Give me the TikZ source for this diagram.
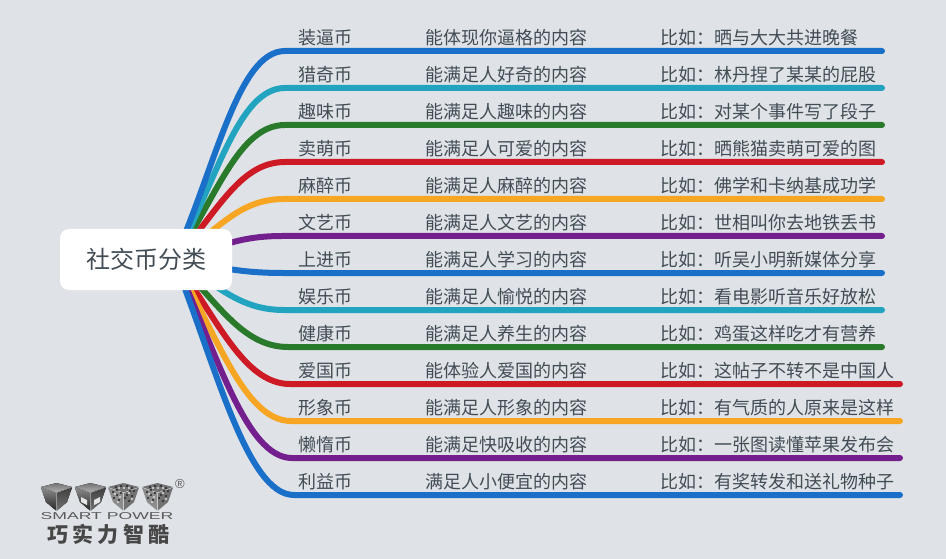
\documentclass[tikz,border=0pt]{standalone}
\usepackage{fontspec}
\setmainfont{Noto Sans CJK SC}
\setsansfont{Liberation Sans}
\definecolor{bgc}{HTML}{DFE3E7}
\definecolor{txt}{HTML}{424C55}
\definecolor{cblue}{HTML}{1A6FC9}
\definecolor{cteal}{HTML}{22A3BF}
\definecolor{cgreen}{HTML}{2A7A2C}
\definecolor{cred}{HTML}{CE1A25}
\definecolor{corange}{HTML}{F6A623}
\definecolor{cpurple}{HTML}{741F8E}
\tikzset{
  branch/.style={line width=6pt,line cap=round},
  lbl/.style={anchor=west,inner sep=0pt,text=txt,font=\fontsize{18pt}{18pt}\selectfont},
  rootbox/.style={fill=white,rounded corners=9pt,minimum width=172pt,minimum height=61pt,inner sep=0pt,text=txt,font=\fontsize{24pt}{26pt}\selectfont},
  cubetop/.style={top color=black!55,bottom color=black!30},
  cubel/.style={top color=black!45,bottom color=black!85},
  cuber/.style={top color=black!75,bottom color=black!55},
  cubetexl/.style={fill=black!45},
  cubetexr/.style={fill=black!55},
}
% #1 left x, #2 left vertex y, #3 top style, #4 left style, #5 right style
\newcommand{\cubelogo}[5]{%
  \fill[#3] (#1,#2) -- ++(15.5,-4) -- ++(15.5,4) -- ++(-15.5,5.5) -- cycle;
  \fill[#4] (#1,#2+0.6) -- ++(15.2,5.5) -- ++(0,17.5) -- ++(-10.2,-8.5) -- cycle;
  \fill[#5] (#1+31,#2+0.6) -- ++(-15.2,5.5) -- ++(0,17.5) -- ++(10.2,-8.5) -- cycle;
}
\newcommand{\cubedots}[2]{%
  \foreach \dx/\dy in {5/5,9/8,6/11,11/13,13/6,9/3,22/4,26/4,19/8,24/9,21/14,17/11,13/-1,19/-1,8/0,24/1}{
    \fill[black!85] (#1+\dx,#2+\dy) circle (1.1);
  }%
  \foreach \dx/\dy in {7/7,12/10,10/15,21/6,24/12,16/1,11/1,21/1}{
    \fill[black!12] (#1+\dx,#2+\dy) circle (1.2);
  }%
}
\begin{document}
\begin{tikzpicture}[x=1pt,y=-1pt]
\useasboundingbox (0,0) rectangle (946,559);
\fill[bgc] (0,0) rectangle (946,559);
\coordinate (hub) at (174,260);
% branches, lowest first
\foreach \i/\yy/\col/\xe/\xs in {
  7/273/cblue/882/283,8/310/cteal/882/284,9/347/cgreen/882/288,10/384/cred/900/290,
  11/421/corange/900/291,12/458/cpurple/900/292,13/495/cblue/900/294,
  6/236/cpurple/882/282,5/199/corange/882/284,4/162/cred/882/285,3/125/cgreen/882/285,2/88/cteal/882/285,1/51/cblue/882/285}{
  \coordinate (s\i) at (\xs,\yy);
  \coordinate (e\i) at (\xe,\yy);
  \pgfmathsetmacro{\cy}{260+0.45*(\yy-260)}
  \pgfmathsetmacro{\cx}{\xs-47}
  \draw[branch,draw=\col] (hub) .. controls (216,\cy) and (\cx,\yy) .. (s\i) -- (e\i);
}
\node[rootbox] (root) at (146,259.5) {社交币分类};
\foreach \yy/\a/\b/\c in {
  38/装逼币/能体现你逼格的内容/晒与大大共进晚餐,
  75/猎奇币/能满足人好奇的内容/林丹捏了某某的屁股,
  112/趣味币/能满足人趣味的内容/对某个事件写了段子,
  149/卖萌币/能满足人可爱的内容/晒熊猫卖萌可爱的图,
  186/麻醉币/能满足人麻醉的内容/佛学和卡纳基成功学,
  223/文艺币/能满足人文艺的内容/世相叫你去地铁丢书,
  260/上进币/能满足人学习的内容/听吴小明新媒体分享,
  297/娱乐币/能满足人愉悦的内容/看电影听音乐好放松,
  334/健康币/能满足人养生的内容/鸡蛋这样吃才有营养,
  371/爱国币/能体验人爱国的内容/这帖子不转不是中国人,
  408/形象币/能满足人形象的内容/有气质的人原来是这样,
  445/懒惰币/能满足快吸收的内容/一张图读懂苹果发布会,
  482/利益币/满足人小便宜的内容/有奖转发和送礼物种子}{
  \node[lbl] (a\yy) at (298,\yy) {\a};
  \node[lbl] (b\yy) at (425,\yy) {\b};
  \node[lbl] (c\yy) at (660,\yy) {比如：\c};
}
% logo
\cubelogo{41}{487}{cubetop}{cubel}{cuber}
\cubelogo{75}{487}{cubetop}{cubel}{cuber}
\cubelogo{108}{487}{cubetexr}{cubetexl}{cubetexr}\cubedots{108}{487}
\cubelogo{142}{487}{cubetexr}{cubetexl}{cubetexr}\cubedots{142}{487}
\fill[black!10] (81,497) -- (87,500) -- (87,505) -- (81,502) -- cycle;
\fill[black!10] (94,500) -- (100,497) -- (100,502) -- (94,505) -- cycle;
\node[inner sep=0pt,text=black!65,xscale=1.76,font=\sffamily\fontsize{10pt}{10pt}\selectfont] (logoen) at (107,516) {SMART\ POWER};
\node[inner sep=0pt,text=black!72,font=\fontsize{21pt}{22pt}\selectfont\bfseries] (logocn) at (108.5,534) {巧\hspace{4.5pt}实\hspace{4.5pt}力\hspace{4.5pt}智\hspace{4.5pt}酷};
\node[inner sep=0pt,text=black!65,font=\sffamily\fontsize{13pt}{13pt}\selectfont] (logor) at (180,484) {®};
\end{tikzpicture}
\end{document}
